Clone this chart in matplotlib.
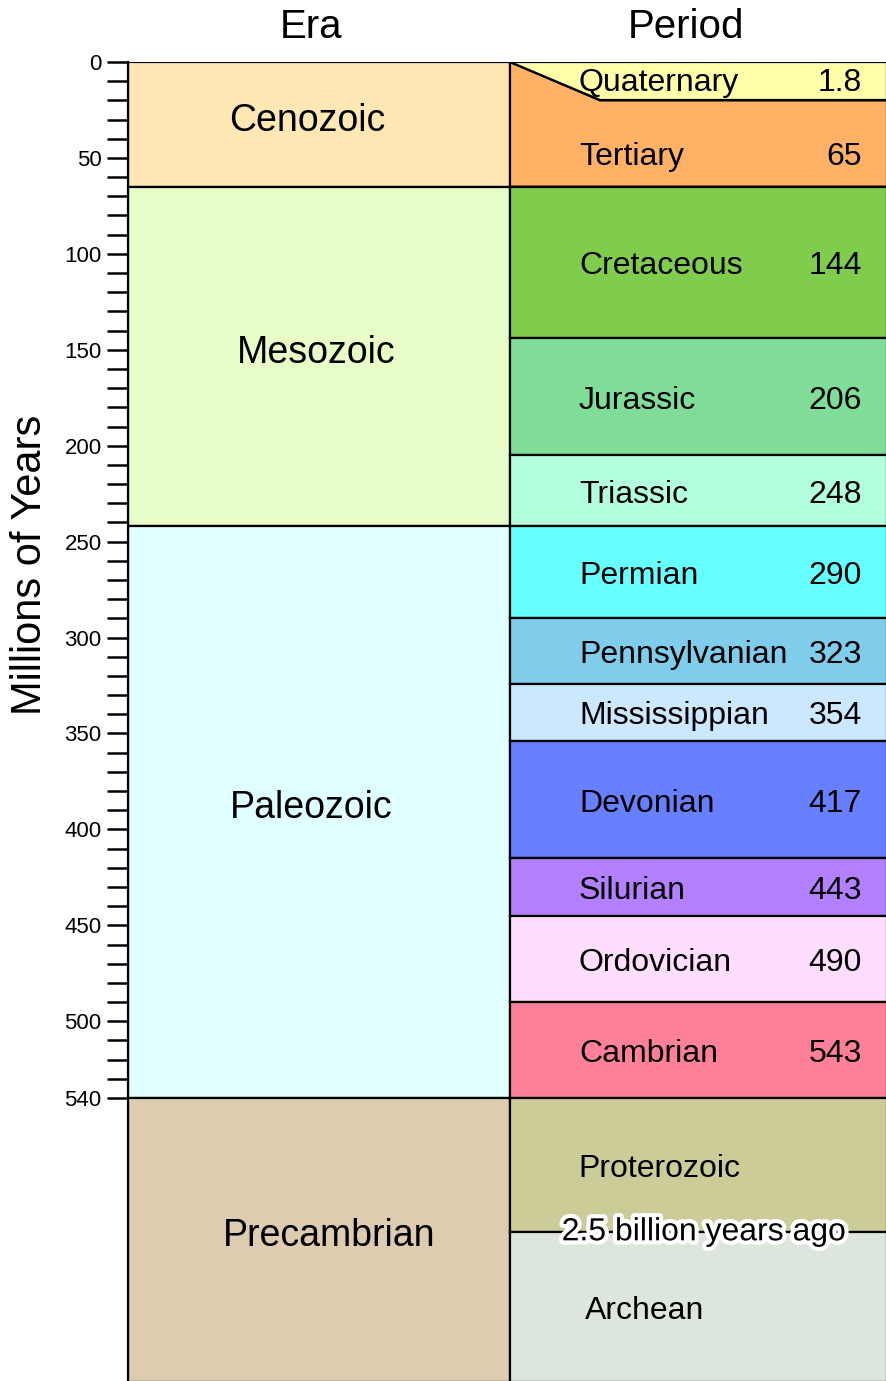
import numpy as np
import matplotlib
matplotlib.use('Agg')
import matplotlib.pyplot as plt
from matplotlib.patches import Rectangle, Polygon
import matplotlib.patheffects as pe

plt.rcParams['font.family'] = ['Liberation Sans', 'DejaVu Sans']

# --------------------------------------------------
# data (millions of years, as drawn)
# --------------------------------------------------
eras        = ['Cenozoic', 'Mesozoic', 'Paleozoic', 'Precambrian']
era_top     = [0, 65, 242, 540]
era_bottom  = [65, 242, 540, 688]
era_colors  = ['#FFE8B3', '#E8FCC8', '#E0FFFF', '#DECCB0']

periods     = ['Tertiary', 'Cretaceous', 'Jurassic', 'Triassic', 'Permian',
               'Pennsylvanian', 'Mississippian', 'Devonian', 'Silurian',
               'Ordovician', 'Cambrian']
period_top  = [20, 65, 144, 205, 242, 290, 324, 354, 415, 445, 490]
period_bot  = [65, 144, 205, 242, 290, 324, 354, 415, 445, 490, 540]
period_age  = ['65', '144', '206', '248', '290', '323', '354', '417', '443', '490', '543']
period_colors = ['#FFB266', '#80CC4D', '#80DD99', '#B3FFDD', '#66FFFF', '#80CCEB',
                 '#CCE8FF', '#6680FF', '#B380FF', '#FFDDFF', '#FF8099']

quat_name, quat_age, quat_color = 'Quaternary', '1.8', '#FFFFAA'
quat_bottom = 20

pre_names  = ['Proterozoic', 'Archean']
pre_top    = [540, 610]
pre_bottom = [610, 688]
pre_colors = ['#CCCC99', '#DDE6DD']

major_ticks = [0, 50, 100, 150, 200, 250, 300, 350, 400, 450, 500, 540]
minor_ticks = list(range(0, 541, 10))

# --------------------------------------------------
# figure
# --------------------------------------------------
fig = plt.figure(figsize=(8.87, 13.81), dpi=100)
ax = fig.add_axes([128/887, 0, 759/887, 1319/1381])
ax.set_xlim(0, 1)
ax.set_ylim(687.5, 0)

xs = (510 - 128) / 759   # column split
lw = 1.6
fs = 23
era_dx = [-0.016, -0.004, -0.01, 0.013]   # label nudges, as in the original

for name, t, b, c, dx in zip(eras, era_top, era_bottom, era_colors, era_dx):
    ax.add_patch(Rectangle((0, t), xs, b - t, facecolor=c, edgecolor='black', lw=lw))
    ax.text(xs / 2 + dx, (t + b) / 2 - 2, name, ha='center', va='center', fontsize=27)

for name, t, b, age, c in zip(periods, period_top, period_bot, period_age, period_colors):
    if name == 'Tertiary':
        poly = Polygon([(xs, 0), ((600 - 128) / 759, t), (1, t), (1, b), (xs, b)],
                       closed=True, facecolor=c, edgecolor='black', lw=lw)
        ax.add_patch(poly)
        ymid = (t + b) / 2 + 7
    else:
        ax.add_patch(Rectangle((xs, t), 1 - xs, b - t, facecolor=c, edgecolor='black', lw=lw))
        ymid = (t + b) / 2 + 2
    ax.text((579 - 128) / 759, ymid, name, ha='left', va='center', fontsize=fs)
    ax.text((862 - 128) / 759, ymid, age, ha='right', va='center', fontsize=fs)

# Quaternary wedge
ax.add_patch(Polygon([(xs, 0), (1, 0), (1, quat_bottom), ((600 - 128) / 759, quat_bottom)],
                     closed=True, facecolor=quat_color, edgecolor='black', lw=lw))
ax.text((579 - 128) / 759, quat_bottom / 2 + 1, quat_name, ha='left', va='center', fontsize=fs)
ax.text((862 - 128) / 759, quat_bottom / 2 + 1, quat_age, ha='right', va='center', fontsize=fs)

# Precambrian
for name, t, b, c in zip(pre_names, pre_top, pre_bottom, pre_colors):
    ax.add_patch(Rectangle((xs, t), 1 - xs, b - t, facecolor=c, edgecolor='black', lw=lw))
ax.text((578 - 128) / 759, 577, pre_names[0], ha='left', va='center', fontsize=fs)
ax.text((585 - 128) / 759, 651, pre_names[1], ha='left', va='center', fontsize=fs)
ax.text((704 - 128) / 759, pre_top[1], '2.5 billion years ago', ha='center', va='center',
        fontsize=fs, path_effects=[pe.withStroke(linewidth=6, foreground='white')])

# axis
for s in ['top', 'right', 'bottom']:
    ax.spines[s].set_visible(False)
ax.spines['left'].set_linewidth(lw)
ax.set_xticks([])
ax.set_yticks(minor_ticks, minor=True)
ax.set_yticks(major_ticks)
ax.set_yticklabels([str(v) for v in major_ticks], fontsize=16)
ax.tick_params(axis='y', which='both', length=15, width=1.8, pad=4)

fig.text(311 / 887, 1 - 27 / 1381, 'Era', ha='center', va='center', fontsize=29)
fig.text(686 / 887, 1 - 27 / 1381, 'Period', ha='center', va='center', fontsize=29)
fig.text(30 / 887, 1 - 565 / 1381, 'Millions of Years', ha='center', va='center',
         rotation=90, fontsize=30)

fig.savefig('out.png', dpi=100)
